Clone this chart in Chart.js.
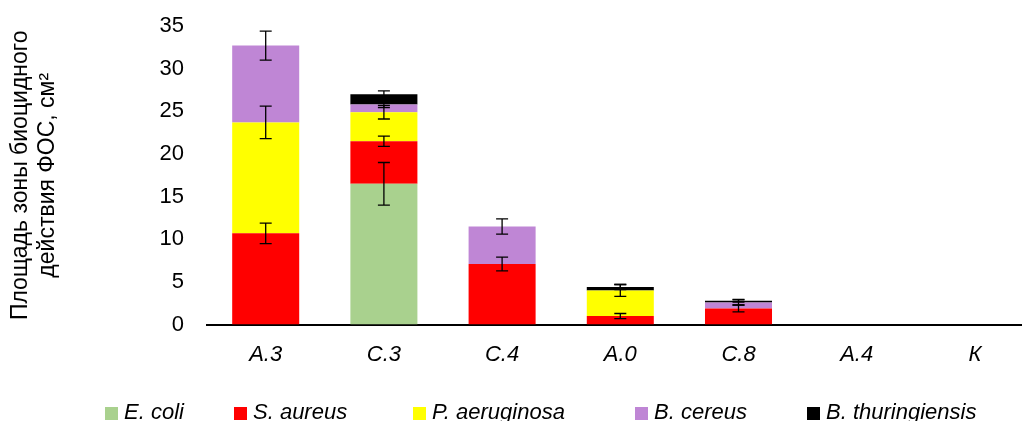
<!DOCTYPE html>
<html>
<head>
<meta charset="utf-8">
<script src="https://cdn.jsdelivr.net/npm/chart.js@4/dist/chart.umd.min.js"></script>
<style>
  html, body { margin: 0; padding: 0; background: #fff; overflow: hidden; }
  #wrap { position: relative; width: 1022px; height: 421px; overflow: hidden; }
  #chart { position: absolute; left: 0; top: 0; }
  .leg { position: absolute; top: 401px; font: italic 22px "Liberation Sans", Arial, sans-serif; line-height: 22px; color: #000; white-space: nowrap; }
  .leg i { position: absolute; left: 0; top: 5.5px; width: 13px; height: 13px; }
  .leg span { margin-left: 19px; }
</style>
</head>
<body>
<div id="wrap">
  <canvas id="chart" width="1040" height="421"></canvas>
</div>
<script>
const categories = ["A.3", "C.3", "C.4", "A.0", "C.8", "A.4", "К"];
const seriesNames = ["E. coli", "S. aureus", "P. aeruginosa", "B. cereus", "B. thuringiensis"];
const seriesColors = ["#A9D18E", "#FF0000", "#FFFF00", "#BF86D5", "#000000"];

const eColi = [0, 16.5, 0, 0, 0, 0, 0];
const sAureus = [10.7, 5.0, 7.1, 1.0, 1.9, 0, 0];
const pAeruginosa = [13.0, 3.4, 0, 3.0, 0, 0, 0];
const bCereus = [9.0, 0.9, 4.4, 0, 0.7, 0, 0];
const bThuringiensis = [0, 1.2, 0, 0.4, 0.2, 0, 0];

const eColiErr = [0, 2.5, 0, 0, 0, 0, 0];
const sAureusErr = [1.2, 0.6, 0.8, 0.3, 0.4, 0, 0];
const pAeruginosaErr = [1.9, 0.8, 0, 0.7, 0, 0, 0];
const bCereusErr = [1.7, 0.35, 0.9, 0, 0.3, 0, 0];
const bThuringiensisErr = [0, 0.4, 0, 0.3, 0.15, 0, 0];

const yTicks = [0, 5, 10, 15, 20, 25, 30, 35];

const values = [eColi, sAureus, pAeruginosa, bCereus, bThuringiensis];
const errors = [eColiErr, sAureusErr, pAeruginosaErr, bCereusErr, bThuringiensisErr];

const font = "'Liberation Sans', Arial, sans-serif";

// error bars sit on the cumulative top of each stacked segment
const errorBars = {
  id: "errorBars",
  afterDatasetsDraw(chart) {
    const { ctx, scales: { y } } = chart;
    ctx.save();
    ctx.strokeStyle = "#000";
    ctx.lineWidth = 1.3;
    chart.data.datasets.forEach((ds, i) => {
      const meta = chart.getDatasetMeta(i);
      ds.errors.forEach((e, j) => {
        if (!e) return;
        let top = 0;
        for (let k = 0; k <= i; k++) top += chart.data.datasets[k].data[j];
        const x = meta.data[j].x;
        const y1 = y.getPixelForValue(top + e);
        const y2 = y.getPixelForValue(top - e);
        ctx.beginPath();
        ctx.moveTo(x, y1); ctx.lineTo(x, y2);
        ctx.moveTo(x - 6, y1); ctx.lineTo(x + 6, y1);
        ctx.moveTo(x - 6, y2); ctx.lineTo(x + 6, y2);
        ctx.stroke();
      });
    });
    ctx.restore();
  }
};

new Chart(document.getElementById("chart"), {
  type: "bar",
  data: {
    labels: categories,
    datasets: seriesNames.map((name, i) => ({
      label: name,
      data: values[i],
      errors: errors[i],
      backgroundColor: seriesColors[i],
      borderWidth: 0,
      barPercentage: 0.567,
      categoryPercentage: 1
    }))
  },
  options: {
    responsive: false,
    animation: false,
    layout: { padding: { left: 0, right: 6, top: 26, bottom: 36 } },
    plugins: {
      legend: { display: false },
      tooltip: { enabled: false }
    },
    scales: {
      x: {
        stacked: true,
        grid: { display: false, drawTicks: false },
        border: { display: true, color: "#000", width: 2 },
        ticks: { color: "#000", padding: 17, font: { family: font, size: 22, style: "italic" } }
      },
      y: {
        stacked: true,
        min: 0,
        max: 35,
        afterFit: s => { s.width = 206.6; s.paddingTop = 0; s.paddingBottom = 0; },
        afterBuildTicks: s => { s.ticks = yTicks.map(v => ({ value: v })); },
        grid: { display: false, drawTicks: false },
        border: { display: false },
        ticks: { color: "#000", padding: 22.6, font: { family: font, size: 22 } },
        title: {
          display: true,
          text: ["Площадь зоны биоцидного", "действия ФОС, см²"],
          color: "#000",
          padding: { top: 7.3, bottom: 0 },
          font: { family: font, size: 23, lineHeight: 1.16 }
        }
      }
    }
  },
  plugins: [errorBars]
});

// legend in the same order and colours as the datasets
const legendX = [105, 234, 413, 635, 807];
const wrap = document.getElementById("wrap");
seriesNames.forEach((name, i) => {
  const item = document.createElement("div");
  item.className = "leg";
  item.style.left = legendX[i] + "px";
  item.innerHTML = `<i style="background:${seriesColors[i]}"></i><span>${name}</span>`;
  wrap.appendChild(item);
});
</script>
</body>
</html>
